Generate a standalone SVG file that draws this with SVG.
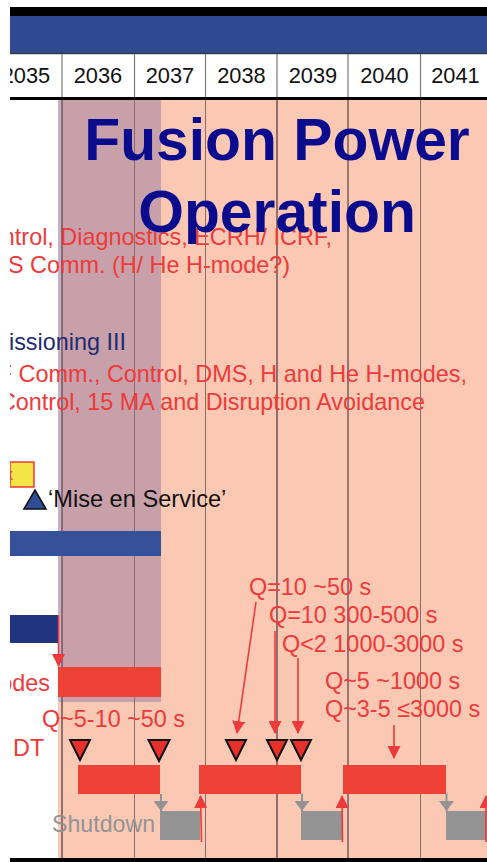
<svg xmlns="http://www.w3.org/2000/svg" width="487" height="862" viewBox="0 0 487 862">
<style>
text{font-family:"Liberation Sans",Arial,sans-serif}
.yr{font-size:21.8px;fill:#111;text-anchor:middle}
.rt{font-size:23.4px;fill:#ee3a3a}
.vl{stroke:#8b6a6a;stroke-width:1}
.hl{stroke:#7a7a7a;stroke-width:1.2}
.redbar{fill:#ee4138}
.gray{fill:#939393}
.tri{fill:#e8302b;stroke:#111;stroke-width:2;stroke-linejoin:miter}
.ra{stroke:#ee3a3a;stroke-width:1.6;fill:none}
.ga{stroke:#939393;stroke-width:2;fill:none}
</style>
<defs>
<clipPath id="cl"><rect x="10" y="0" width="477" height="862"/></clipPath>
<marker id="mr" viewBox="0 0 13 13" refX="12" refY="6.5" markerWidth="13" markerHeight="13" markerUnits="userSpaceOnUse" orient="auto"><path d="M0,0 L13,6.5 L0,13 Z" fill="#ee3a3a"/></marker>
<marker id="mg" viewBox="0 0 10 15" refX="10" refY="7.5" markerWidth="10" markerHeight="15" markerUnits="userSpaceOnUse" orient="auto"><path d="M0,0 L10,7.5 L0,15 Z" fill="#939393"/></marker>
</defs>
<rect width="487" height="862" fill="#fff"/>
<g clip-path="url(#cl)">
<g id="header">
<rect x="10" y="7" width="477" height="9" fill="#000"/>
<rect x="10" y="16" width="477" height="37" fill="#304a92"/>
<rect x="10" y="53" width="477" height="1.2" fill="#333"/>
<rect x="10" y="97" width="477" height="3" fill="#000"/>
<g class="hl">
<line x1="62" y1="54" x2="62" y2="97"/><line x1="134.5" y1="54" x2="134.5" y2="97"/><line x1="205.5" y1="54" x2="205.5" y2="97"/><line x1="277" y1="54" x2="277" y2="97"/><line x1="348" y1="54" x2="348" y2="97"/><line x1="420.5" y1="54" x2="420.5" y2="97"/>
</g>
<text class="yr" x="26" y="83">2035</text>
<text class="yr" x="98" y="83">2036</text>
<text class="yr" x="170" y="83">2037</text>
<text class="yr" x="241.5" y="83">2038</text>
<text class="yr" x="313" y="83">2039</text>
<text class="yr" x="384.5" y="83">2040</text>
<text class="yr" x="455.5" y="83">2041</text>
</g>
<g id="background">
<rect x="58" y="100" width="429" height="758" fill="#fbc8b4"/>
<rect x="58" y="100" width="103" height="602" fill="#c8a0aa"/>
<rect x="58" y="100" width="4" height="602" fill="#c8b0c8"/>
<g class="vl">
<line x1="62" y1="100" x2="62" y2="858" stroke-width="1.6" stroke="#7a5a5e"/>
<line x1="134.5" y1="100" x2="134.5" y2="858"/>
<line x1="205.5" y1="100" x2="205.5" y2="858"/>
<line x1="277" y1="100" x2="277" y2="858" stroke-width="1.5" stroke="#6e5050"/>
<line x1="348" y1="100" x2="348" y2="858" stroke-width="1.5" stroke="#7a5a5e"/>
<line x1="420.5" y1="100" x2="420.5" y2="858"/>
</g>
<rect x="10" y="858" width="477" height="4" fill="#000"/>
</g>
<g id="commissioning-texts">
<text class="rt" x="332" y="245" text-anchor="end">Control, Diagnostics, ECRH/ ICRF,</text>
<text class="rt" x="290" y="273" text-anchor="end">DMS Comm. (H/ He H-mode?)</text>
<text x="126" y="350" text-anchor="end" style="font-size:23.4px;fill:#1f2a72">Commissioning III</text>
<text class="rt" x="467" y="382" text-anchor="end">ICRF Comm., Control, DMS, H and He H-modes,</text>
<text class="rt" x="425" y="410" text-anchor="end">Control, 15 MA and Disruption Avoidance</text>
</g>
<g id="mise-en-service">
<rect x="10" y="462" width="24" height="25" fill="#f2e545" stroke="#ee3a3a" stroke-width="1.5"/>
<text x="13" y="480" text-anchor="end" style="font-size:16px;fill:#ee3a3a">x</text>
<path d="M24,509 L35,490 L46,509 Z" fill="#2f4d97" stroke="#111" stroke-width="1.6"/>
<text x="48" y="507" style="font-size:23.6px;fill:#111">‘Mise en Service’</text>
</g>
<g id="bar-blue"><rect x="10" y="531" width="151" height="25" fill="#34519a"/></g>
<g id="bar-darkblue"><rect x="10" y="615" width="48" height="28" fill="#213480"/></g>
<g id="h-modes">
<rect class="redbar" x="58" y="667" width="103" height="30"/>
<text class="rt" x="50" y="691" text-anchor="end">H-modes</text>
</g>
<g id="labels">
<text class="rt" x="42" y="727">Q~5-10 ~50 s</text>
<text class="rt" x="249" y="595">Q=10 ~50 s</text>
<text class="rt" x="269" y="623">Q=10 300-500 s</text>
<text class="rt" x="282" y="652">Q&lt;2 1000-3000 s</text>
<text class="rt" x="325" y="689">Q~5 ~1000 s</text>
<text class="rt" x="325" y="717">Q~3-5 ≤3000 s</text>
<text class="rt" x="13" y="756">DT</text>
<text x="52" y="832" style="font-size:23.2px;fill:#939393">Shutdown</text>
</g>
<g id="milestones">
<path class="tri" d="M70,740 L90,740 L80,760 Z"/>
<path class="tri" d="M148.5,740 L169.5,740 L159,761 Z"/>
<path class="tri" d="M226,740 L246,740 L236,760 Z"/>
<path class="tri" d="M267,740 L287,740 L277,760 Z"/>
<path class="tri" d="M291,740 L311,740 L301,760 Z"/>
</g>
<g id="dt-campaigns">
<rect class="redbar" x="78" y="765" width="82" height="29"/>
<rect class="redbar" x="199" y="765" width="102" height="29"/>
<rect class="redbar" x="343" y="765" width="103" height="29"/>
</g>
<g id="shutdowns">
<rect class="gray" x="160" y="811" width="40" height="29"/>
<rect class="gray" x="301" y="811" width="41" height="29"/>
<rect class="gray" x="446" y="811" width="41" height="29"/>
</g>
<g id="connectors">
<line class="ra" x1="58.5" y1="615" x2="58.5" y2="666" marker-end="url(#mr)"/>
<line class="ra" x1="256" y1="602" x2="237" y2="733" marker-end="url(#mr)"/>
<line class="ra" x1="275" y1="631" x2="275" y2="733" marker-end="url(#mr)"/>
<line class="ra" x1="298" y1="658" x2="298" y2="733" marker-end="url(#mr)"/>
<line class="ra" x1="394" y1="725" x2="394" y2="758" marker-end="url(#mr)"/>
<line class="ga" x1="161" y1="794" x2="161" y2="811" marker-end="url(#mg)"/>
<line class="ga" x1="302" y1="794" x2="302" y2="811" marker-end="url(#mg)"/>
<line class="ga" x1="446.5" y1="794" x2="446.5" y2="811" marker-end="url(#mg)"/>
<line class="ra" x1="201.5" y1="842" x2="200.5" y2="796" marker-end="url(#mr)"/>
<line class="ra" x1="342.5" y1="842" x2="342" y2="796" marker-end="url(#mr)"/>
<line class="ra" x1="486" y1="842" x2="486" y2="796" marker-end="url(#mr)"/>
</g>
<g id="title">
<text x="277" y="160" text-anchor="middle" style="font-size:58.8px;font-weight:bold;fill:#0b0b8e">Fusion Power</text>
<text x="277" y="232" text-anchor="middle" style="font-size:58.8px;font-weight:bold;fill:#0b0b8e">Operation</text>
</g>
</g>
</svg>
